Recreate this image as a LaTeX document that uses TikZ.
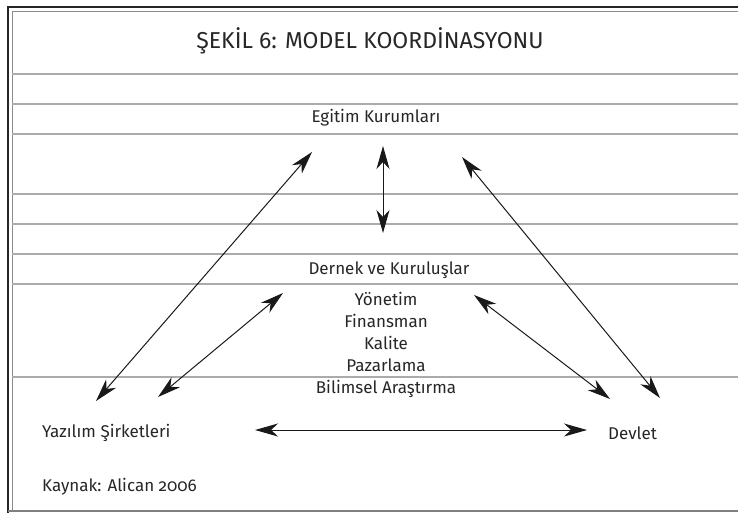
\documentclass[tikz,border=0pt]{standalone}
\usepackage{fontspec}
\setmainfont{Fira Sans}
\newfontfamily\oldnum{Fira Sans}[Numbers=OldStyle]
\usetikzlibrary{arrows.meta}

\begin{document}
\begin{tikzpicture}[x=1pt, y=-1pt,
    rule/.style={draw=black!33, line width=1.3pt},
    link/.style={{Stealth[length=23pt,width=13pt,inset=7pt]}-{Stealth[length=23pt,width=13pt,inset=7pt]}, line width=1pt, black!90},
    lbl/.style={inner sep=0pt, text=black!85, font=\fontsize{17}{22}\selectfont, align=center}]

    \useasboundingbox (0,0) rectangle (738,514);

    % Frame
    \draw[line width=2.6pt, black!85] (8,513) -- (8,7) -- (738,7);
    \draw[line width=0.8pt, black!45] (12,511) -- (12,11) -- (738,11);
    \draw[line width=1.6pt, black!50] (8,511) -- (738,511);

    % Rules
    \foreach \y in {74,104,134,194,224,254,284,377}
        \draw[rule] (12,\y) -- (738,\y);

    % Labels
    \node[lbl, font=\fontsize{23}{26}\selectfont] (baslik) at (370,41) {ŞEKİL 6: MODEL KOORDİNASYONU};
    \node[lbl] (egitim) at (376,118) {Egitim Kurumları};
    \node[lbl] (dernek) at (389,270) {Dernek ve Kuruluşlar};
    \node[lbl] (konular) at (386,344.5) {Yönetim\\Finansman\\Kalite\\Pazarlama\\Bilimsel Araştırma};
    \node[lbl, anchor=west] (yazilim) at (42,433) {Yazılım Şirketleri};
    \node[lbl, anchor=west] (devlet) at (608,433) {Devlet};
    \node[lbl, anchor=west] (kaynak) at (42,487) {Kaynak: Alican {\oldnum 2006}};

    % Arrow ends
    \coordinate (e1) at (312,152);
    \coordinate (y1) at (96,401);
    \coordinate (e2) at (383,146);
    \coordinate (d2) at (383,233);
    \coordinate (e3) at (462,157);
    \coordinate (v3) at (660,398);
    \coordinate (d4) at (283,293);
    \coordinate (y4) at (158,397);
    \coordinate (d5) at (474,295);
    \coordinate (v5) at (610,399);
    \coordinate (y6) at (255,430);
    \coordinate (v6) at (587,430);

    % Arrows
    \draw[link] (e1) -- (y1);
    \draw[link] (e2) -- (d2);
    \draw[link] (e3) -- (v3);
    \draw[link] (d4) -- (y4);
    \draw[link] (d5) -- (v5);
    \draw[link] (y6) -- (v6);

\end{tikzpicture}
\end{document}
